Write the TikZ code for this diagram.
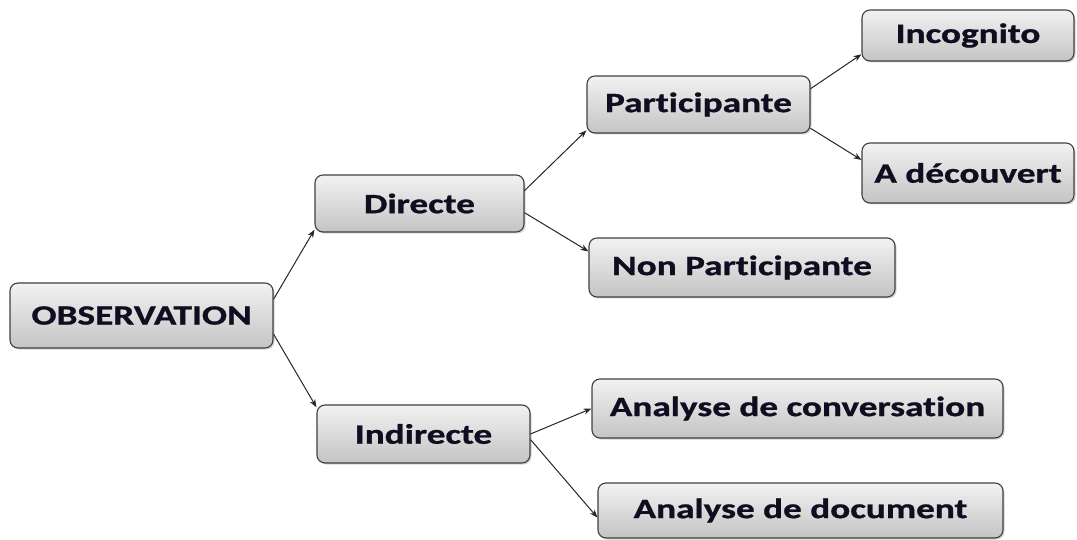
\documentclass[tikz,border=0pt]{standalone}
\usepackage{fontspec}
\setmainfont{Carlito}[Ligatures=NoCommon, BoldFeatures={FakeBold=0.8}]
\usepackage{graphicx}
\usetikzlibrary{arrows.meta,shadows}
\definecolor{txt}{HTML}{0E0E20}
\definecolor{boxtop}{HTML}{F2F2F2}
\definecolor{boxbot}{HTML}{C4C4C4}
\newcommand{\lbl}[1]{\scalebox{1.33}[1]{#1}}
\tikzset{
  box/.style={draw=black!75, line width=1.1pt, rounded corners=8pt,
    top color=boxtop, bottom color=boxbot,
    drop shadow={shadow xshift=1.5pt, shadow yshift=-1.5pt, fill=black!35},
    text=txt, font=\fontsize{28}{30}\bfseries\selectfont, inner sep=0pt},
  arr/.style={draw=black!85, line width=1pt, -{Stealth[length=8pt,width=6pt]}}
}
\begin{document}
\begin{tikzpicture}[x=1pt,y=-1pt]
\useasboundingbox (0,0) rectangle (1077,540);
\node[box, minimum width=263pt, minimum height=65pt] (obs) at (141.5,315.5) {\lbl{OBSERVATION}};
\node[box, minimum width=209pt, minimum height=57pt] (dir) at (419.5,203.5) {\lbl{Directe}};
\node[box, minimum width=213pt, minimum height=58pt] (ind) at (423.5,434) {\lbl{Indirecte}};
\node[box, minimum width=223pt, minimum height=57pt] (par) at (698.5,104.5) {\lbl{Participante}};
\node[box, minimum width=212pt, minimum height=51pt] (inc) at (968,35.5) {\lbl{Incognito}};
\node[box, minimum width=212pt, minimum height=60pt] (dec) at (968,173) {\lbl{A découvert}};
\node[box, minimum width=306pt, minimum height=59pt] (non) at (742,267.5) {\lbl{Non Participante}};
\node[box, minimum width=411pt, minimum height=59pt] (conv) at (797.5,408.5) {\lbl{Analyse de conversation}};
\node[box, minimum width=405pt, minimum height=55pt] (doc) at (800.5,510.5) {\lbl{Analyse de document}};
\draw[arr] (obs.7) -- (dir.194);
\draw[arr] (obs.-8) -- (ind.166);
\draw[arr] (dir.7) -- (par.193);
\draw[arr] (dir.-5) -- (non.174);
\draw[arr] (par.8) -- (inc.190);
\draw[arr] (par.-12) -- (dec.173);
\draw[arr] (ind.0) -- (conv.west);
\draw[arr] (ind.-3) -- (doc.182);
\end{tikzpicture}
\end{document}
